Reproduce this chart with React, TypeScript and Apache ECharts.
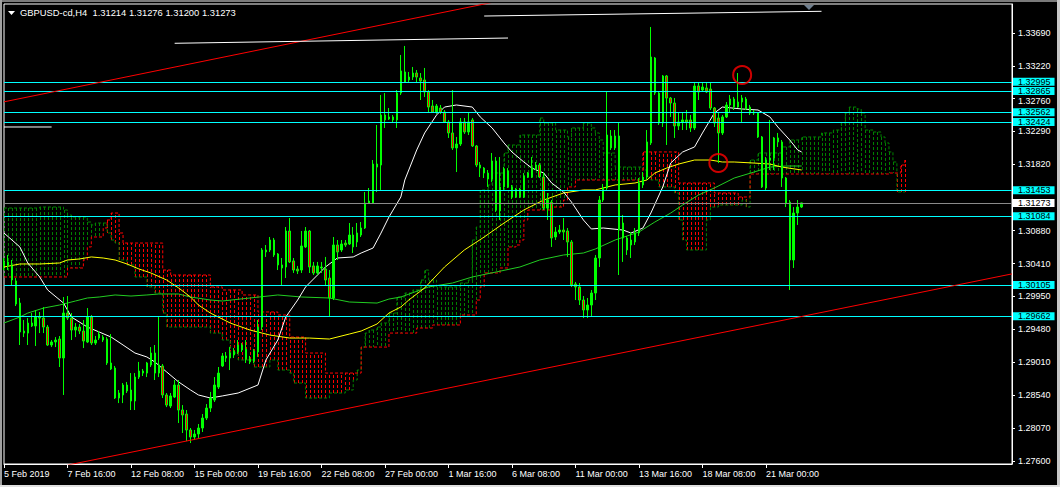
import React, { useEffect, useRef } from "react";
import * as echarts from "echarts";

const FONT = "Liberation Sans";

const xLabels = ["5 Feb 2019", "7 Feb 16:00", "12 Feb 08:00", "15 Feb 00:00", "19 Feb 16:00", "22 Feb 08:00", "27 Feb 00:00", "1 Mar 16:00", "6 Mar 08:00", "11 Mar 00:00", "13 Mar 16:00", "18 Mar 08:00", "21 Mar 00:00"];
const BARS_PER_LABEL = 16;
const SLOT_COUNT = 255;

const yTicks = [1.276, 1.2807, 1.2854, 1.2901, 1.2948, 1.2995, 1.3041, 1.3088, 1.3182, 1.3229, 1.3276, 1.3322, 1.3369];
const Y_MIN = 1.27558;
const Y_MAX = 1.34103;

const headerText = "GBPUSD-cd,H4  1.31214 1.31276 1.31200 1.31273";

// [open, close, low, high]
const candles = [
  [1.30376, 1.30433, 1.30318, 1.30489], [1.30433, 1.30376, 1.30318, 1.30532], [1.30376, 1.30176, 1.30105, 1.30461], [1.30162, 1.29834, 1.29806, 1.30204],
  [1.29848, 1.29436, 1.29251, 1.2992], [1.2945, 1.29421, 1.29364, 1.29607], [1.29421, 1.29564, 1.29251, 1.29635], [1.29564, 1.29522, 1.29507, 1.29706],
  [1.29522, 1.29649, 1.29237, 1.29749], [1.29649, 1.29635, 1.29421, 1.29721], [1.29635, 1.29507, 1.29421, 1.29791], [1.29507, 1.29251, 1.29237, 1.29536],
  [1.29251, 1.29294, 1.29222, 1.29322], [1.29294, 1.29322, 1.29222, 1.29364], [1.29336, 1.29066, 1.28938, 1.29379], [1.29066, 1.29706, 1.2854, 1.29934],
  [1.29706, 1.29635, 1.29607, 1.29948], [1.29635, 1.29464, 1.29322, 1.29706], [1.29464, 1.29507, 1.29364, 1.29564], [1.29507, 1.2945, 1.29407, 1.2955],
  [1.2945, 1.29308, 1.29208, 1.29607], [1.29294, 1.29649, 1.29279, 1.29777], [1.29649, 1.29279, 1.29251, 1.29678], [1.29279, 1.29322, 1.29251, 1.29379],
  [1.2935, 1.29407, 1.29322, 1.2945], [1.29364, 1.29322, 1.29294, 1.29393], [1.29336, 1.28995, 1.28967, 1.29364], [1.28995, 1.2891, 1.28895, 1.29407],
  [1.28924, 1.28497, 1.28483, 1.28953], [1.28497, 1.28568, 1.28425, 1.28611], [1.2854, 1.28682, 1.28425, 1.2871], [1.28682, 1.28597, 1.28568, 1.28725],
  [1.28611, 1.28454, 1.28326, 1.28852], [1.28454, 1.28795, 1.28326, 1.28852], [1.28795, 1.28881, 1.28767, 1.2901], [1.28881, 1.28852, 1.2881, 1.2891],
  [1.28852, 1.28995, 1.28795, 1.2901], [1.28967, 1.29137, 1.28938, 1.29222], [1.29137, 1.28852, 1.28753, 1.29251], [1.28852, 1.28967, 1.28795, 1.29649],
  [1.28953, 1.2854, 1.28497, 1.28981], [1.2854, 1.28397, 1.28368, 1.28568], [1.28383, 1.28526, 1.28354, 1.28568], [1.28511, 1.28682, 1.28497, 1.28753],
  [1.28682, 1.28326, 1.28141, 1.28753], [1.28326, 1.28255, 1.27999, 1.28397], [1.28269, 1.28042, 1.27885, 1.28326], [1.28042, 1.27942, 1.27856, 1.2807],
  [1.27942, 1.27985, 1.27899, 1.28042], [1.27985, 1.2807, 1.27928, 1.28127], [1.2807, 1.28212, 1.28013, 1.28269], [1.28212, 1.28354, 1.28184, 1.28411],
  [1.28354, 1.28497, 1.28298, 1.28583], [1.28468, 1.28682, 1.2844, 1.28795], [1.28653, 1.28852, 1.28625, 1.28938], [1.28953, 1.29095, 1.28938, 1.29137],
  [1.29095, 1.29066, 1.2901, 1.29152], [1.29066, 1.29137, 1.28895, 1.29222], [1.29109, 1.29166, 1.29066, 1.29208], [1.29152, 1.29251, 1.29123, 1.29322],
  [1.29251, 1.2918, 1.29152, 1.29279], [1.29194, 1.29052, 1.28995, 1.29322], [1.29052, 1.2901, 1.28981, 1.29095], [1.29024, 1.29166, 1.28995, 1.29194],
  [1.29152, 1.29507, 1.29081, 1.29607], [1.29507, 1.30603, 1.29464, 1.30631], [1.30575, 1.30603, 1.30504, 1.30674], [1.30603, 1.30745, 1.30575, 1.30788],
  [1.30745, 1.30532, 1.30504, 1.30774], [1.30546, 1.3039, 1.30318, 1.3056], [1.3039, 1.30347, 1.30105, 1.30489], [1.30361, 1.30873, 1.30204, 1.3093],
  [1.30873, 1.30433, 1.30418, 1.31058], [1.30447, 1.30318, 1.30276, 1.30489], [1.30332, 1.30304, 1.30261, 1.30376], [1.30318, 1.3066, 1.30276, 1.30873],
  [1.30646, 1.30873, 1.30631, 1.3093], [1.30873, 1.30361, 1.30276, 1.30887], [1.30376, 1.30276, 1.30247, 1.30433], [1.30276, 1.30376, 1.30247, 1.30433],
  [1.30347, 1.30361, 1.30276, 1.30433], [1.30332, 1.30176, 1.30105, 1.30504], [1.30204, 1.2992, 1.29649, 1.30318], [1.2992, 1.30674, 1.29891, 1.30788],
  [1.30674, 1.30575, 1.30461, 1.30745], [1.30603, 1.30688, 1.30575, 1.30745], [1.30702, 1.30674, 1.30646, 1.30745], [1.30688, 1.30816, 1.30674, 1.30987],
  [1.30816, 1.30646, 1.3056, 1.3093], [1.30717, 1.30845, 1.30646, 1.30987], [1.30816, 1.30916, 1.30788, 1.31001], [1.30916, 1.31271, 1.30902, 1.31428],
  [1.31271, 1.313, 1.31257, 1.31485], [1.31271, 1.31826, 1.31257, 1.31883], [1.31783, 1.31826, 1.31428, 1.32382], [1.31812, 1.32524, 1.31457, 1.32808],
  [1.32524, 1.32453, 1.32339, 1.32836], [1.32467, 1.32496, 1.32453, 1.32623], [1.32453, 1.32496, 1.3241, 1.32524], [1.32453, 1.32836, 1.32339, 1.32879],
  [1.32836, 1.3315, 1.32808, 1.33378], [1.33136, 1.32993, 1.32979, 1.33506], [1.33022, 1.33064, 1.32979, 1.33136], [1.33064, 1.33121, 1.33022, 1.33207],
  [1.33121, 1.33064, 1.32979, 1.33164], [1.3305, 1.33008, 1.32737, 1.33121], [1.33022, 1.32851, 1.3278, 1.33193], [1.32851, 1.32637, 1.32566, 1.32879],
  [1.32652, 1.32566, 1.32552, 1.32737], [1.32566, 1.32652, 1.32538, 1.3268], [1.32623, 1.32566, 1.32538, 1.32666], [1.32566, 1.32425, 1.3241, 1.32595],
  [1.32425, 1.32268, 1.32197, 1.32453], [1.32268, 1.32055, 1.32026, 1.32879], [1.32055, 1.32111, 1.31712, 1.32211], [1.32111, 1.32425, 1.32083, 1.32481],
  [1.32425, 1.32282, 1.32254, 1.32481], [1.32282, 1.32425, 1.32239, 1.32552], [1.32453, 1.32083, 1.32069, 1.32481], [1.32083, 1.31812, 1.31783, 1.32097],
  [1.31812, 1.31769, 1.31641, 1.31855], [1.31769, 1.31698, 1.31627, 1.31783], [1.31698, 1.31613, 1.315, 1.31741], [1.31613, 1.31869, 1.31571, 1.31983],
  [1.31869, 1.31172, 1.31144, 1.31926], [1.31158, 1.315, 1.3103, 1.31926], [1.315, 1.31755, 1.31457, 1.31783], [1.31727, 1.315, 1.31485, 1.31769],
  [1.315, 1.31357, 1.31328, 1.31528], [1.31357, 1.31471, 1.31343, 1.31485], [1.31471, 1.31357, 1.31343, 1.31485], [1.31357, 1.31656, 1.31343, 1.31698],
  [1.31641, 1.31698, 1.31627, 1.31712], [1.31641, 1.31769, 1.31627, 1.31926], [1.31755, 1.31812, 1.31741, 1.31855], [1.31812, 1.31641, 1.31627, 1.3184],
  [1.31641, 1.312, 1.31172, 1.31712], [1.312, 1.31314, 1.3103, 1.31414], [1.31285, 1.30774, 1.30646, 1.31314], [1.30788, 1.30859, 1.30745, 1.3093],
  [1.30859, 1.30887, 1.3083, 1.30959], [1.30887, 1.30859, 1.30745, 1.31058], [1.30873, 1.30717, 1.30504, 1.30916], [1.30717, 1.30105, 1.30077, 1.30745],
  [1.30119, 1.30077, 1.29891, 1.30148], [1.30077, 1.29891, 1.2982, 1.30133], [1.29891, 1.29749, 1.29635, 1.29948], [1.29749, 1.2982, 1.29635, 1.2992],
  [1.2982, 1.29991, 1.29664, 1.30034], [1.29991, 1.30489, 1.29891, 1.30532], [1.30489, 1.31314, 1.30361, 1.31371], [1.31314, 1.31485, 1.31285, 1.31542],
  [1.31485, 1.32239, 1.31457, 1.32851], [1.32225, 1.32055, 1.32026, 1.3231], [1.32055, 1.32225, 1.32026, 1.3231], [1.32225, 1.30887, 1.30247, 1.3241],
  [1.30987, 1.30774, 1.30433, 1.31101], [1.30774, 1.30603, 1.30532, 1.30802], [1.30674, 1.30745, 1.30489, 1.30859], [1.30717, 1.30845, 1.30674, 1.30916],
  [1.30845, 1.31556, 1.30802, 1.31627], [1.31528, 1.31641, 1.31485, 1.31712], [1.31641, 1.3214, 1.31599, 1.3231], [1.32126, 1.33349, 1.32097, 1.33776],
  [1.33335, 1.32836, 1.32808, 1.33349], [1.32836, 1.3241, 1.32382, 1.32865], [1.3241, 1.33079, 1.32353, 1.33093], [1.33079, 1.32765, 1.32097, 1.33093],
  [1.32765, 1.32694, 1.32496, 1.3278], [1.32694, 1.32368, 1.32197, 1.32765], [1.32368, 1.32425, 1.3231, 1.32552], [1.32425, 1.32453, 1.3231, 1.32552],
  [1.32453, 1.32425, 1.3231, 1.32595], [1.32453, 1.32339, 1.32282, 1.32524], [1.32339, 1.32936, 1.3231, 1.32993], [1.32936, 1.32851, 1.32737, 1.32993],
  [1.32879, 1.32922, 1.32851, 1.32979], [1.32908, 1.32851, 1.32836, 1.32993], [1.32893, 1.32623, 1.32595, 1.32993], [1.32623, 1.3241, 1.32353, 1.32637],
  [1.32481, 1.32268, 1.3184, 1.32552], [1.32268, 1.32496, 1.32239, 1.32524], [1.32496, 1.32666, 1.32481, 1.32708], [1.32666, 1.32751, 1.32566, 1.32808],
  [1.32751, 1.32637, 1.32595, 1.3278], [1.32637, 1.32708, 1.32623, 1.33121], [1.32708, 1.32765, 1.3241, 1.32808], [1.32751, 1.32609, 1.32595, 1.3278],
  [1.32637, 1.32552, 1.32524, 1.32666], [1.32552, 1.32566, 1.32524, 1.32595], [1.32552, 1.32211, 1.32197, 1.32566], [1.32211, 1.315, 1.31485, 1.32225],
  [1.31485, 1.31883, 1.31457, 1.31926], [1.31883, 1.31912, 1.31741, 1.32453], [1.31912, 1.32197, 1.31741, 1.32211], [1.32197, 1.3214, 1.32069, 1.32268],
  [1.3214, 1.31627, 1.315, 1.32168], [1.31627, 1.31271, 1.31214, 1.31641], [1.31285, 1.30461, 1.30034, 1.31314], [1.30461, 1.31129, 1.30347, 1.31214],
  [1.31129, 1.31214, 1.30959, 1.31314], [1.31214, 1.31273, 1.312, 1.31276],
];

// moving averages: [bar index, value]
const whiteMa = [[0, 1.30844], [4, 1.30646], [6, 1.30418], [9, 1.30219], [11, 1.30034], [15, 1.29848], [17, 1.29649], [21, 1.29507], [24, 1.29436], [27, 1.29364], [30, 1.29251], [33, 1.29137], [36, 1.29081], [38, 1.2901], [41, 1.28867], [44, 1.28725], [47, 1.28611], [49, 1.2854], [52, 1.28497], [55, 1.28526], [59, 1.28568], [64, 1.28682], [66, 1.29038], [69, 1.29322], [71, 1.29649], [74, 1.29891], [76, 1.30077], [79, 1.30247], [81, 1.30361], [84, 1.30489], [88, 1.30504], [90, 1.3056], [93, 1.30631], [95, 1.30844], [97, 1.31072], [100, 1.31357], [101, 1.31599], [104, 1.32026], [106, 1.32268], [109, 1.32524], [111, 1.32637], [114, 1.32666], [118, 1.32637], [120, 1.32496], [123, 1.32339], [126, 1.32126], [128, 1.31997], [131, 1.31855], [133, 1.31769], [136, 1.31698], [138, 1.31556], [141, 1.31428], [143, 1.31285], [146, 1.3103], [148, 1.30902], [151, 1.30916], [156, 1.30887], [158, 1.30844], [161, 1.30916], [163, 1.31129], [166, 1.315], [168, 1.3184], [171, 1.31997], [174, 1.32069], [176, 1.32268], [179, 1.32552], [181, 1.32637], [186, 1.32609], [190, 1.32595], [193, 1.32496], [195, 1.32353], [198, 1.32168], [200, 1.32026], [201, 1.31997]];
const yellowMa = [[0, 1.30361], [4, 1.30404], [9, 1.30404], [14, 1.30418], [16, 1.30461], [19, 1.30475], [22, 1.30504], [25, 1.30489], [28, 1.30461], [31, 1.30404], [34, 1.30333], [37, 1.30276], [41, 1.30176], [44, 1.30063], [47, 1.29934], [49, 1.2982], [52, 1.29706], [57, 1.29564], [62, 1.29464], [67, 1.29393], [72, 1.2935], [77, 1.2935], [82, 1.29336], [87, 1.29407], [90, 1.2945], [94, 1.2955], [97, 1.29706], [100, 1.29792], [102, 1.29891], [106, 1.30063], [111, 1.30361], [116, 1.30603], [121, 1.30788], [126, 1.30987], [131, 1.31172], [136, 1.31314], [141, 1.31414], [146, 1.31457], [149, 1.31457], [154, 1.31528], [159, 1.31556], [162, 1.31599], [164, 1.31698], [167, 1.31769], [170, 1.31826], [174, 1.31883], [178, 1.31883], [181, 1.31855], [184, 1.31855], [189, 1.3184], [193, 1.31826], [196, 1.31783], [201, 1.31741]];
const greenMa = [[0, 1.29564], [4, 1.29649], [6, 1.29706], [10, 1.29777], [14, 1.2982], [18, 1.29877], [21, 1.2992], [24, 1.29934], [28, 1.29963], [32, 1.29948], [36, 1.29963], [39, 1.29977], [44, 1.29977], [47, 1.29934], [52, 1.29891], [55, 1.29877], [62, 1.2992], [69, 1.29963], [75, 1.29934], [82, 1.2992], [87, 1.29863], [94, 1.29848], [97, 1.29905], [100, 1.29934], [107, 1.30077], [113, 1.30133], [118, 1.30219], [124, 1.3029], [130, 1.30361], [135, 1.30461], [141, 1.30532], [146, 1.3056], [149, 1.30617], [154, 1.30745], [160, 1.30859], [164, 1.31001], [168, 1.31129], [171, 1.31243], [175, 1.31385], [179, 1.31485], [184, 1.31627], [189, 1.31712], [193, 1.31783], [197, 1.31798], [201, 1.31798]];

// Ichimoku spans as runs: [first bar index, level held until next run]
const spanA = [[0, 1.312], [9, 1.31214], [15, 1.31172], [16, 1.31101], [17, 1.31072], [21, 1.31001], [22, 1.30959], [23, 1.30987], [26, 1.30845], [27, 1.30745], [28, 1.30702], [29, 1.30461], [31, 1.3039], [33, 1.30219], [36, 1.30077], [38, 1.29991], [40, 1.29706], [41, 1.29507], [52, 1.29421], [55, 1.29322], [57, 1.29137], [59, 1.29038], [63, 1.28938], [67, 1.29038], [69, 1.28895], [72, 1.28852], [73, 1.2871], [76, 1.28497], [82, 1.28568], [86, 1.28611], [88, 1.28753], [89, 1.28895], [90, 1.29222], [91, 1.29421], [92, 1.29464], [94, 1.29507], [95, 1.29564], [97, 1.29706], [99, 1.29934], [101, 1.29991], [103, 1.30034], [105, 1.30176], [106, 1.30318], [107, 1.30176], [109, 1.30077], [115, 1.30133], [117, 1.30176], [118, 1.30745], [119, 1.3093], [120, 1.31457], [122, 1.31528], [123, 1.31698], [126, 1.31983], [127, 1.32097], [130, 1.32239], [135, 1.32481], [136, 1.3241], [139, 1.3231], [142, 1.32211], [143, 1.32339], [146, 1.3241], [148, 1.32339], [149, 1.32268], [150, 1.32168], [151, 1.31983], [154, 1.31783], [161, 1.31741], [162, 1.31641], [163, 1.31599], [165, 1.315], [169, 1.31414], [170, 1.3103], [171, 1.30745], [172, 1.30603], [177, 1.3103], [178, 1.31214], [180, 1.31243], [186, 1.31314], [187, 1.31214], [188, 1.31883], [190, 1.31983], [196, 1.32069], [198, 1.32168], [201, 1.32211], [206, 1.32268], [209, 1.3231], [211, 1.3241], [212, 1.32552], [213, 1.32637], [215, 1.32609], [216, 1.32552], [217, 1.3231], [219, 1.32282], [221, 1.32211], [222, 1.32126], [223, 1.31998], [224, 1.31855], [225, 1.31428], [227, 1.31428]];
const spanB = [[0, 1.30219], [16, 1.30347], [20, 1.30461], [21, 1.30646], [22, 1.30788], [25, 1.30916], [26, 1.3103], [27, 1.31129], [29, 1.30845], [30, 1.30702], [40, 1.30318], [42, 1.30247], [52, 1.30077], [55, 1.30034], [60, 1.29963], [64, 1.29721], [69, 1.29678], [72, 1.29364], [76, 1.29137], [81, 1.28852], [90, 1.29222], [97, 1.29421], [104, 1.29493], [108, 1.29536], [115, 1.29678], [119, 1.29891], [120, 1.30077], [121, 1.30276], [125, 1.30347], [127, 1.30646], [129, 1.30674], [130, 1.30745], [131, 1.3103], [132, 1.31172], [138, 1.31214], [141, 1.31314], [142, 1.315], [144, 1.31599], [161, 1.31998], [170, 1.31556], [179, 1.31414], [185, 1.31357], [188, 1.31684], [223, 1.31698], [226, 1.31812], [227, 1.31883]];

// horizontal levels
const cyanLevels = [1.32995, 1.32865, 1.32562, 1.32424, 1.31453, 1.31084, 1.30105, 1.29662];
const currentPrice = 1.31273;

// drawn objects: [bar index, price]
const redTrendTop = [[0, 1.32711], [130, 1.34206]];
const redTrendBottom = [[16, 1.27542], [254, 1.30263]];
const whiteTrendA = [[43, 1.33544], [127, 1.33619]];
const whiteTrendB = [[121, 1.33932], [206, 1.33999]];
const whiteTrendC = [[0, 1.32353], [12, 1.32353]];
const circleMarks = [[180, 1.31841], [186, 1.33093]];

function levelAt(runs: number[][], i: number) {
  let v = runs[0][1];
  for (const r of runs) if (r[0] <= i) v = r[1];
  return v;
}

export default function App() {
  const ref = useRef<HTMLDivElement>(null);

  useEffect(() => {
    const chart = echarts.init(ref.current as HTMLDivElement, null, { renderer: "svg" });
    const slots = Array.from({ length: SLOT_COUNT }, (_, i) => String(i));
    const labelIdx = (i: number) => i % BARS_PER_LABEL === 0 && i / BARS_PER_LABEL < xLabels.length;
    const cloudLen = spanA[spanA.length - 1][0] + 1;
    const hatch = Array.from({ length: cloudLen }, (_, i) => [i, levelAt(spanA, i), levelAt(spanB, i)]);

    const boxLabel = (bg: string) => ({
      show: true,
      position: "end",
      distance: 1,
      formatter: (p: any) => Number(p.value).toFixed(5),
      color: "#000",
      backgroundColor: bg,
      padding: [0, 4, 0, 5],
      fontSize: 9,
      lineHeight: 8,
      fontFamily: FONT,
    });

    const simpleLine = (data: number[][], color: string, z: number) => ({
      type: "line",
      data,
      symbol: "none",
      silent: true,
      z,
      lineStyle: { color, width: 1 },
    });

    // the label sitting just under the 1.32865 box is nudged down a little
    const crowdedTick = 1.3276;

    const option: any = {
      animation: false,
      backgroundColor: "#000",
      textStyle: { fontFamily: FONT },
      grid: { left: 4, right: 48, top: 4, bottom: 23, show: true, borderColor: "#fff", borderWidth: 1, backgroundColor: "#000" },
      xAxis: {
        type: "category",
        data: slots,
        boundaryGap: false,
        axisLine: { show: true, lineStyle: { color: "#fff" } },
        axisTick: { show: true, interval: (i: number) => labelIdx(i), length: 4, lineStyle: { color: "#fff" } },
        axisLabel: {
          interval: (i: number) => labelIdx(i),
          formatter: (v: string) => xLabels[Number(v) / BARS_PER_LABEL] || "",
          color: "#fff",
          fontSize: 9,
          fontFamily: FONT,
          align: "left",
          margin: 5,
        },
        splitLine: { show: false },
      },
      yAxis: {
        type: "value",
        position: "right",
        min: Y_MIN,
        max: Y_MAX,
        axisLine: { show: true, lineStyle: { color: "#fff" } },
        axisTick: { show: true, customValues: yTicks, length: 3, lineStyle: { color: "#fff" } },
        axisLabel: {
          customValues: yTicks,
          formatter: (v: number) => (Math.abs(v - crowdedTick) < 1e-7 ? "{low|" + v.toFixed(5) + "}" : v.toFixed(5)),
          rich: { low: { color: "#fff", fontSize: 9, lineHeight: 8, fontFamily: FONT, padding: [5, 0, 0, 0] } },
          color: "#fff",
          fontSize: 9,
          lineHeight: 8,
          fontFamily: FONT,
          margin: 6,
        },
        splitLine: { show: false },
      },
      graphic: [
        { type: "rect", shape: { x: 0, y: 0, width: 1060, height: 2 }, style: { fill: "#7a7a7a" }, silent: true },
        { type: "rect", shape: { x: 0, y: 0, width: 2, height: 487 }, style: { fill: "#a0a0a0" }, silent: true },
        { type: "rect", shape: { x: 1057, y: 0, width: 3, height: 487 }, style: { fill: "#c8c8c8" }, silent: true },
        { type: "rect", shape: { x: 0, y: 485, width: 1060, height: 2 }, style: { fill: "#e0e0e0" }, silent: true },
        { type: "polygon", shape: { points: [[8, 11], [15, 11], [11.5, 15]] }, style: { fill: "#fff" }, silent: true },
        { type: "text", x: 20, y: 8, style: { text: headerText, fill: "#fff", fontSize: 9.4, fontFamily: FONT }, silent: true },
        { type: "polygon", shape: { points: [[804, 5], [814, 5], [809, 10]] }, style: { fill: "#708090" }, silent: true, z: 100 },
      ],
      series: [
        {
          type: "custom",
          data: hatch,
          encode: { x: 0, y: [1, 2] },
          silent: true,
          z: 1,
          clip: true,
          renderItem: (_p: any, api: any) => {
            const i = api.value(0);
            const a = api.value(1);
            const b = api.value(2);
            const p1 = api.coord([i, a]);
            const p2 = api.coord([i, b]);
            const x = Math.round(p1[0]) + 0.5;
            return {
              type: "line",
              shape: { x1: x, y1: p1[1], x2: x, y2: p2[1] },
              style: { stroke: a >= b ? "#008000" : "#ff0000", lineWidth: 1, lineDash: [3, 2] },
            };
          },
        },
        { type: "line", data: spanA, step: "end", symbol: "none", silent: true, z: 2, lineStyle: { color: "#008000", width: 1, type: [3, 2] } },
        {
          type: "line",
          data: spanB,
          step: "end",
          symbol: "none",
          silent: true,
          z: 2,
          lineStyle: { color: "#ff0000", width: 1, type: [3, 2] },
          markLine: {
            silent: true,
            symbol: ["none", "none"],
            precision: 5,
            animation: false,
            data: [
              ...cyanLevels.map((v) => ({ yAxis: v, lineStyle: { color: "#00ffff", width: 1, type: "solid" }, label: boxLabel("#00ffff") })),
              { yAxis: currentPrice, lineStyle: { color: "#8a8a8a", width: 1, type: "solid" }, label: boxLabel("#ffffff") },
            ],
          },
        },
        simpleLine(greenMa, "#22cc22", 3),
        simpleLine(yellowMa, "#ffff00", 3),
        simpleLine(whiteMa, "#ffffff", 3),
        {
          type: "candlestick",
          data: candles,
          barWidth: 2,
          silent: true,
          z: 4,
          itemStyle: { color: "#00ff00", color0: "#ff0000", borderColor: "#00ff00", borderColor0: "#00ff00", borderWidth: 1 },
        },
        simpleLine(redTrendTop, "#ff0000", 5),
        simpleLine(redTrendBottom, "#ff0000", 5),
        simpleLine(whiteTrendA, "#ffffff", 5),
        simpleLine(whiteTrendB, "#ffffff", 5),
        simpleLine(whiteTrendC, "#ffffff", 5),
        {
          type: "scatter",
          data: circleMarks,
          symbol: "circle",
          symbolSize: 18,
          silent: true,
          z: 6,
          itemStyle: { color: "rgba(0,0,0,0)", borderColor: "#ff0000", borderWidth: 2 },
        },
      ],
    };
    chart.setOption(option);
    return () => chart.dispose();
  }, []);

  return <div ref={ref} style={{ position: "absolute", left: 0, top: 0, width: 1060, height: 487, background: "#000" }} />;
}
